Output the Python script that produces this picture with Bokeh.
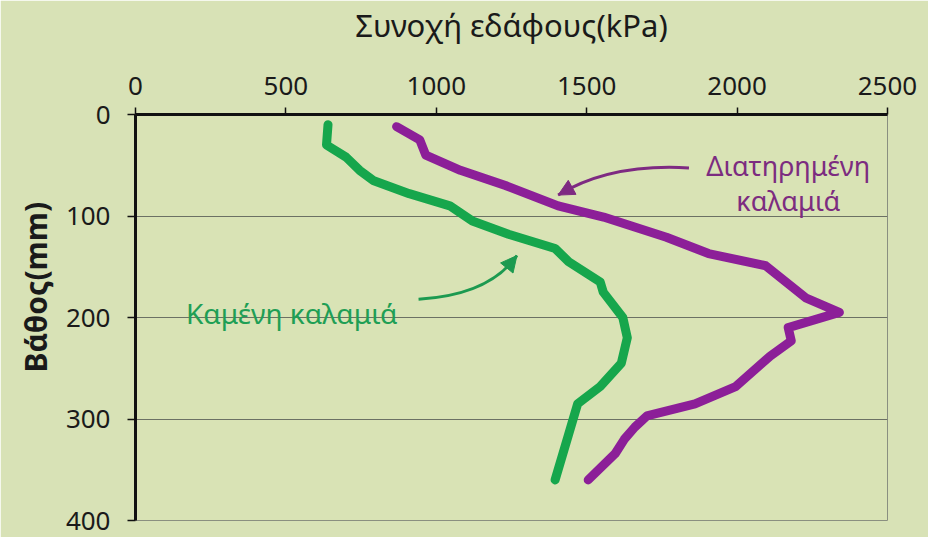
import numpy as np
from bokeh.plotting import figure
from bokeh.models import Range1d, Arrow, NormalHead, FixedTicker, Title
from bokeh.core.properties import value
from bokeh.embed import file_html
from bokeh.resources import INLINE

# ---- data (depth in mm, cohesion in kPa) ----
burnt_depth = [10, 30, 42, 55, 65, 78, 90, 105, 118, 132, 145, 165, 175, 200, 220, 245, 268, 285, 315, 360]
burnt_kpa = [640, 635, 700, 745, 790, 910, 1045, 1120, 1240, 1395, 1440, 1545, 1555, 1620, 1635, 1615, 1545, 1470, 1440, 1395]

kept_depth = [12, 25, 40, 55, 70, 90, 101, 121, 137, 149, 181, 195, 210, 223, 238, 268, 285, 297, 308, 320, 334, 360]
kept_kpa = [868, 945, 965, 1080, 1230, 1405, 1556, 1765, 1905, 2095, 2230, 2340, 2170, 2180, 2110, 1995, 1860, 1700, 1660, 1625, 1595, 1505]

x_ticks = [0, 500, 1000, 1500, 2000, 2500]
y_ticks = [0, 100, 200, 300, 400]

x_title = "Συνοχή εδάφους(kPa)"
y_title = "Βάθος(mm)"
kept_label = ["Διατηρημένη", "καλαμιά"]
burnt_label = "Καμένη καλαμιά"

GREEN = "#16a64c"
PURPLE = "#8c1f98"
TICK_FONT = "Noto Sans"

p = figure(width=928, height=537,
           x_range=Range1d(0, 2500), y_range=Range1d(400, 0),
           x_axis_location="above", y_axis_location="left",
           output_backend="svg", toolbar_location=None,
           min_border_left=135, min_border_right=41,
           min_border_top=114, min_border_bottom=17)

p.border_fill_color = "#d8e2b6"
p.background_fill_color = "#d9e3b5"
p.outline_line_color = "#8a8f80"
p.outline_line_width = 1

# axes
xa = p.xaxis[0]
xa.ticker = FixedTicker(ticks=x_ticks)
xa.axis_line_width = 3
xa.axis_line_color = "#111111"
xa.major_tick_in = 0
xa.major_tick_out = 7
xa.major_tick_line_width = 1.5
xa.major_tick_line_color = "#111111"
xa.minor_tick_line_color = None
xa.major_label_text_font = TICK_FONT
xa.major_label_text_font_size = "26px"
xa.major_label_text_color = "#1a1a1a"
xa.major_label_standoff = 13
xa.axis_label = x_title
xa.axis_label_text_font = "Noto Sans"
xa.axis_label_text_font_style = "normal"
xa.axis_label_text_font_size = "31px"
xa.axis_label_text_color = "#1a1a1a"
xa.axis_label_standoff = 28

ya = p.yaxis[0]
ya.ticker = FixedTicker(ticks=y_ticks)
ya.axis_line_width = 3
ya.axis_line_color = "#111111"
ya.major_tick_in = 0
ya.major_tick_out = 8
ya.major_tick_line_width = 1.5
ya.major_tick_line_color = "#111111"
ya.minor_tick_line_color = None
ya.major_label_text_font = TICK_FONT
ya.major_label_text_font_size = "26px"
ya.major_label_text_color = "#1a1a1a"
ya.major_label_standoff = 17

p.xgrid.visible = False
p.ygrid.ticker = FixedTicker(ticks=[100, 200, 300, 400])
p.ygrid.grid_line_color = "#6c7164"
p.ygrid.grid_line_width = 1.2

# y title as a side title shifted up like the reference
p.add_layout(Title(text=y_title, align="left", offset=148,
                   text_font="Noto Sans", text_font_style="bold",
                   text_font_size="30px", text_color="#1a1a1a",
                   standoff=14), "left")

# series
p.line(burnt_kpa, burnt_depth, line_color=GREEN, line_width=9,
       line_join="round", line_cap="round")
p.line(kept_kpa, kept_depth, line_color=PURPLE, line_width=9,
       line_join="round", line_cap="round")

# labels
p.text(x=[2170, 2170], y=[50, 85], text=kept_label,
       text_font=value("Noto Sans"), text_font_size="27px",
       text_color="#7c2c80", text_align="center", text_baseline="alphabetic")
p.text(x=[168], y=[196], text=[burnt_label],
       text_font=value("Noto Sans"), text_font_size="28px",
       text_color="#1f9f55", text_align="left", text_baseline="alphabetic")

# curved arrows
def curved_arrow(x0, y0, cx, cy, x1, y1, color):
    p.quadratic(x0=[x0], y0=[y0], x1=[x1], y1=[y1], cx=[cx], cy=[cy],
                line_color=color, line_width=3)
    t = 0.88
    xs = (1 - t) ** 2 * x0 + 2 * (1 - t) * t * cx + t ** 2 * x1
    ys = (1 - t) ** 2 * y0 + 2 * (1 - t) * t * cy + t ** 2 * y1
    p.add_layout(Arrow(x_start=xs, y_start=ys, x_end=x1, y_end=y1,
                       line_color=color, line_width=3,
                       end=NormalHead(size=16, fill_color=color, line_color=color)))

curved_arrow(1840, 52.6, 1578, 48, 1405, 79.4, "#7e2a82")
curved_arrow(941, 182, 1175, 178, 1268, 139, "#1c9a50")

open("out.html", "w").write(file_html(p, INLINE))
